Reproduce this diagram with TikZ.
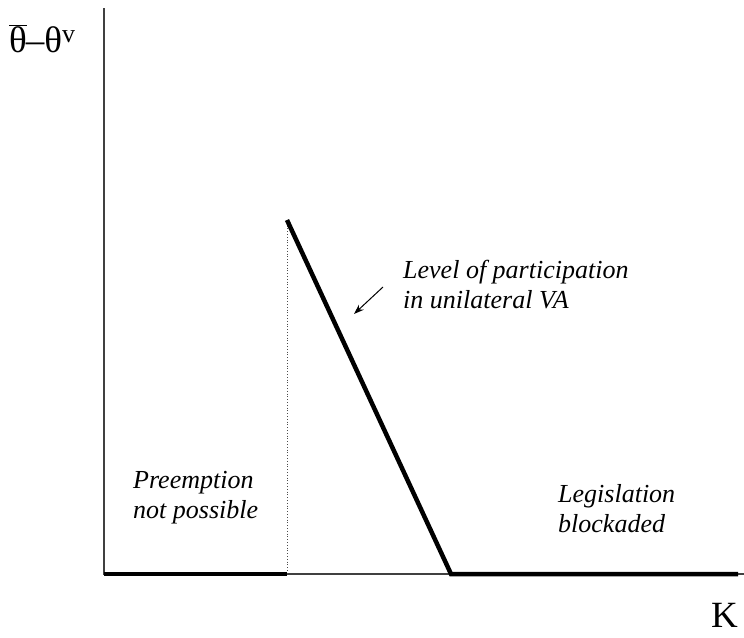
\documentclass[tikz,border=0pt]{standalone}
\usepackage{fontspec}
\setmainfont{Liberation Serif}[ItalicFont={Liberation Serif Italic}]
\usetikzlibrary{arrows.meta}

\begin{document}
\begin{tikzpicture}[
        x=1pt, y=-1pt,
        axisline/.style={line width=1.6pt, black!75},
        curve/.style={line width=4.5pt, black},
        lbl/.style={font=\fontsize{26}{30}\selectfont\itshape, align=left, anchor=base west, inner sep=0pt},
        axislbl/.style={font=\fontsize{37}{42}\selectfont, anchor=base west, inner sep=0pt},
        pointer/.style={-{Stealth[length=10pt,width=7pt]}, line width=1pt}
    ]
        \useasboundingbox (0,0) rectangle (744,637);
        % axes
        \coordinate (origin) at (104,574);
        \coordinate (ytop) at (104,8);
        \coordinate (xend) at (744,574);
        \coordinate (peak) at (287,220);
        \coordinate (kink) at (287,574);
        \coordinate (foot) at (451,574);
        \coordinate (rend) at (738,574);
        \draw[axisline] (ytop) -- (origin) -- (xend);
        % participation level
        \draw[dotted, line width=0.8pt, black!70] (peak) -- (kink);
        \draw[curve] (origin) -- (kink);
        \draw[curve] (peak) -- (foot) -- (rend);
        % labels (base = last line)
        \node[axislbl] (ylab) at (9,52) {$\overline{\hbox{θ}}$\kern-1pt–θ\textsuperscript{v}};
        \node[axislbl] (xlab) at (711,627) {K};
        \node[lbl] (level) at (403,308) {Level of participation\\in unilateral VA};
        \node[lbl] (preempt) at (133,518) {Preemption\\not possible};
        \node[lbl] (legis) at (558,532) {Legislation\\blockaded};
        \coordinate (ptail) at (383,287);
        \coordinate (phead) at (354,314);
        \draw[pointer] (ptail) -- (phead);
    \end{tikzpicture}
\end{document}
